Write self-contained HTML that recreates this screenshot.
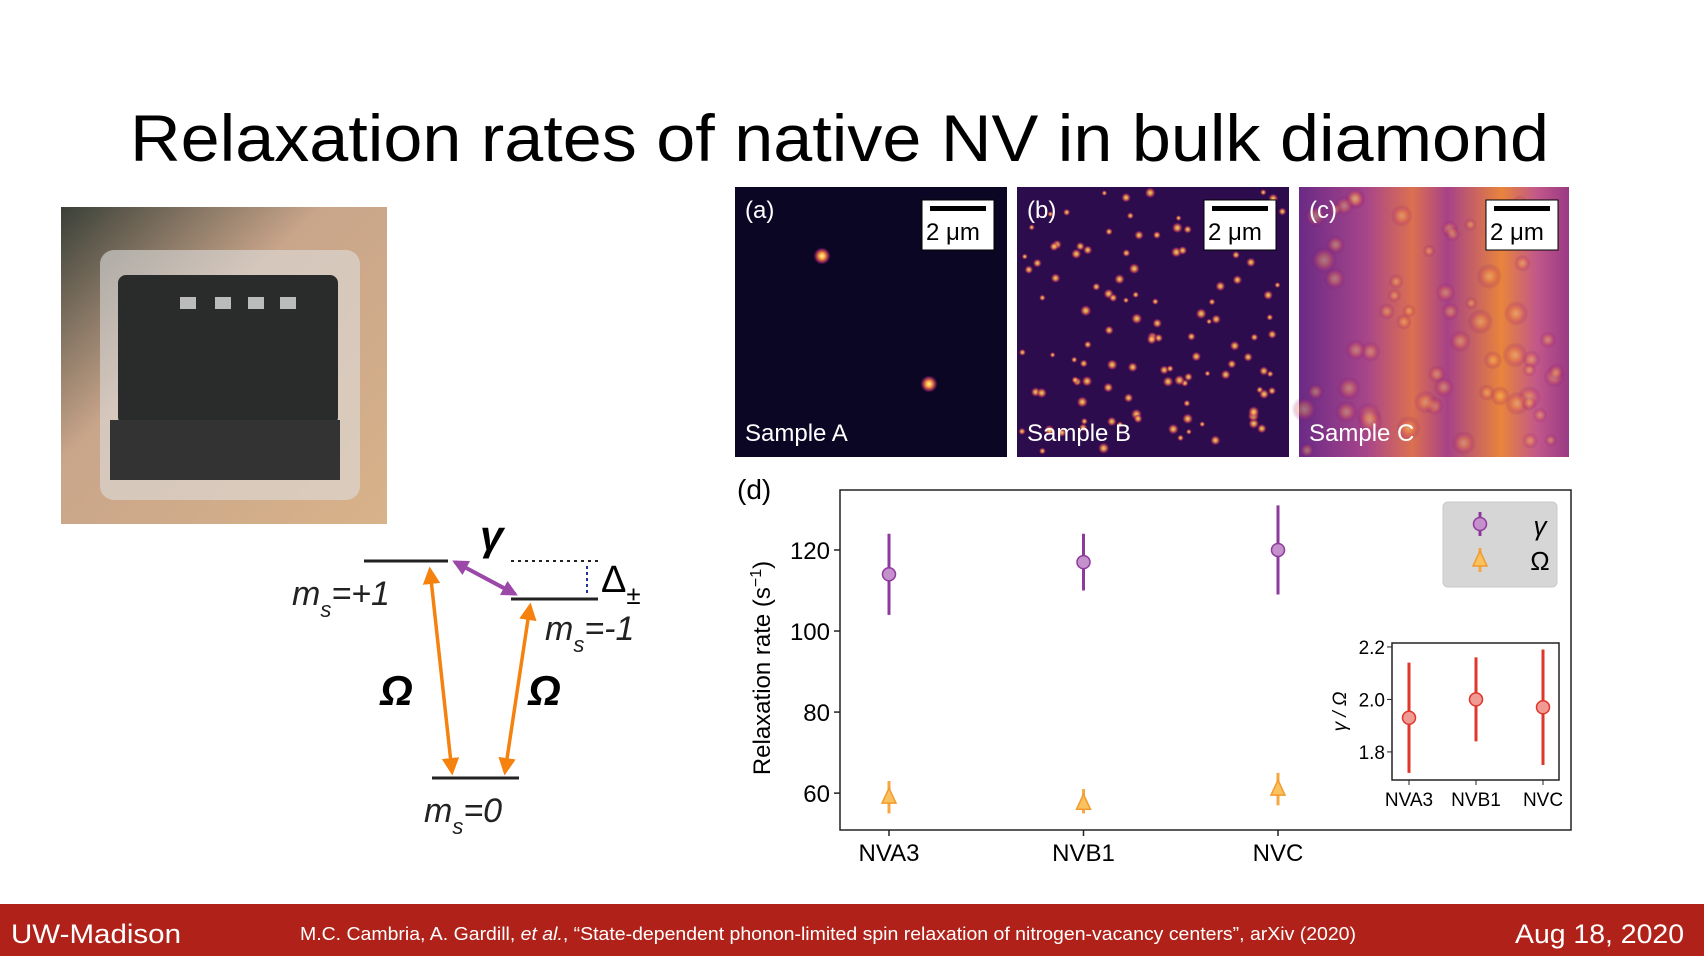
<!DOCTYPE html>
<html><head><meta charset="utf-8"><style>
html,body{margin:0;padding:0;background:#fff;}
#root{position:relative;width:1704px;height:956px;overflow:hidden;background:#fff;font-family:"Liberation Sans",sans-serif;}
svg text{font-family:"Liberation Sans",sans-serif;}
</style></head><body>
<div id="root">
<svg id="s" width="1704" height="956" viewBox="0 0 1704 956">
<defs>
<radialGradient id="spot" cx="50%" cy="50%" r="50%"><stop offset="0" stop-color="#fff3a0"/><stop offset="0.35" stop-color="#f7a13a"/><stop offset="0.7" stop-color="#c0306a" stop-opacity="0.7"/><stop offset="1" stop-color="#300850" stop-opacity="0"/></radialGradient>
<linearGradient id="cgrad" x1="0" x2="1" y1="0" y2="0"><stop offset="0" stop-color="#6a2a86"/><stop offset="0.25" stop-color="#a8458a"/><stop offset="0.42" stop-color="#dc7050"/><stop offset="0.55" stop-color="#a84288"/><stop offset="0.75" stop-color="#e8843c"/><stop offset="0.88" stop-color="#c2588a"/><stop offset="1" stop-color="#9a3a85"/></linearGradient>
<linearGradient id="photo" x1="0" x2="1" y1="0" y2="1"><stop offset="0" stop-color="#3a4038"/><stop offset="0.4" stop-color="#c9a58a"/><stop offset="1" stop-color="#d8b289"/></linearGradient>
<marker id="ao" viewBox="0 0 10 10" refX="8" refY="5" markerWidth="5" markerHeight="5" orient="auto-start-reverse"><path d="M0,0 L10,5 L0,10 z" fill="#f5820f"/></marker>
<marker id="ap" viewBox="0 0 10 10" refX="8" refY="5" markerWidth="4" markerHeight="4" orient="auto-start-reverse"><path d="M0,0 L10,5 L0,10 z" fill="#9b48a8"/></marker>
</defs>
<text x="130" y="161" font-size="66" textLength="1419" lengthAdjust="spacingAndGlyphs" fill="#000">Relaxation rates of native NV in bulk diamond</text>

<g>
<rect x="61" y="207" width="326" height="317" fill="url(#photo)"/>
<rect x="100" y="250" width="260" height="250" rx="14" fill="#ddd" opacity="0.6"/>
<rect x="118" y="275" width="220" height="150" rx="8" fill="#2a2c2c"/>
<rect x="110" y="420" width="230" height="60" fill="#333"/>
<g fill="#bbb"><rect x="180" y="297" width="16" height="12"/><rect x="215" y="297" width="16" height="12"/><rect x="248" y="297" width="16" height="12"/><rect x="280" y="297" width="16" height="12"/></g>
</g>

<g>
<line x1="364" y1="561" x2="448" y2="561" stroke="#222" stroke-width="3"/>
<line x1="511" y1="599" x2="598" y2="599" stroke="#222" stroke-width="3"/>
<line x1="432" y1="778" x2="519" y2="778" stroke="#222" stroke-width="3"/>
<line x1="511" y1="561" x2="598" y2="561" stroke="#222" stroke-width="2" stroke-dasharray="3,4"/>
<line x1="587" y1="566" x2="587" y2="594" stroke="#223399" stroke-width="2" stroke-dasharray="3,3"/>
<line x1="455" y1="562" x2="515" y2="594" stroke="#9b48a8" stroke-width="4" marker-start="url(#ap)" marker-end="url(#ap)"/>
<line x1="430" y1="570" x2="452" y2="772" stroke="#f5820f" stroke-width="3.5" marker-start="url(#ao)" marker-end="url(#ao)"/>
<line x1="530" y1="606" x2="505" y2="772" stroke="#f5820f" stroke-width="3.5" marker-start="url(#ao)" marker-end="url(#ao)"/>
<text x="292" y="605" font-size="34" font-style="italic" font-family="Liberation Serif,serif" fill="#222">m<tspan font-size="22" dy="12">s</tspan><tspan dy="-12">=+1</tspan></text>
<text x="545" y="640" font-size="34" font-style="italic" font-family="Liberation Serif,serif" fill="#222">m<tspan font-size="22" dy="12">s</tspan><tspan dy="-12">=-1</tspan></text>
<text x="424" y="822" font-size="34" font-style="italic" font-family="Liberation Serif,serif" fill="#222">m<tspan font-size="22" dy="12">s</tspan><tspan dy="-12">=0</tspan></text>
<text x="480" y="550" font-size="42" font-weight="bold" font-style="italic" font-family="Liberation Serif,serif">γ</text>
<text x="380" y="705" font-size="42" font-weight="bold" font-style="italic" font-family="Liberation Serif,serif">Ω</text>
<text x="528" y="705" font-size="42" font-weight="bold" font-style="italic" font-family="Liberation Serif,serif">Ω</text>
<text x="601" y="592" font-size="38">Δ<tspan font-size="26" dy="12">±</tspan></text>
</g>

<g id="maps">
<rect x="735" y="187" width="272" height="270" fill="#0b0623"/>
<rect x="1017" y="187" width="272" height="270" fill="#2c0c4c"/>
<rect x="1299" y="187" width="270" height="270" fill="url(#cgrad)"/>
<circle cx="822" cy="256" r="9" fill="url(#spot)"/>
<circle cx="929" cy="384" r="9" fill="url(#spot)"/>
</g>
<g font-size="24" fill="#fff">
<text x="745" y="218">(a)</text><text x="1027" y="218">(b)</text><text x="1309" y="218">(c)</text>
<text x="745" y="441">Sample A</text><text x="1027" y="441">Sample B</text><text x="1309" y="441">Sample C</text>
</g>
<g font-size="24">
<rect x="922" y="200" width="72" height="50" fill="#fff" stroke="#000"/><rect x="930" y="206" width="56" height="5"/><text x="926" y="240">2 μm</text>
<rect x="1204" y="200" width="72" height="50" fill="#fff" stroke="#000"/><rect x="1212" y="206" width="56" height="5"/><text x="1208" y="240">2 μm</text>
<rect x="1486" y="200" width="72" height="50" fill="#fff" stroke="#000"/><rect x="1494" y="206" width="56" height="5"/><text x="1490" y="240">2 μm</text>
</g>

<text x="737" y="499" font-size="28">(d)</text>
<g id="chart"></g>

<g>
<rect x="0" y="904" width="1704" height="52" fill="#b02219"/>
<text x="11" y="943" font-size="27" textLength="170" lengthAdjust="spacingAndGlyphs" fill="#fff">UW-Madison</text>
<text x="300" y="940" font-size="18" textLength="1056" lengthAdjust="spacingAndGlyphs" fill="#fff">M.C. Cambria, A. Gardill, <tspan font-style="italic">et al.</tspan>, “State-dependent phonon-limited spin relaxation of nitrogen-vacancy centers”, arXiv (2020)</text>
<text x="1515" y="943" font-size="27" textLength="169" lengthAdjust="spacingAndGlyphs" fill="#fff">Aug 18, 2020</text>
</g>
</svg>
</div>
<script>
const categories = ["NVA3","NVB1","NVC"];
const gammaVals = [114,117,120];
const gammaLo = [104,110,109];
const gammaHi = [124,124,131];
const omegaVals = [59,57.5,61];
const omegaLo = [55,55,57];
const omegaHi = [63,61,65];
const yTicks = [60,80,100,120];
const ratioVals = [1.93,2.0,1.97];
const ratioLo = [1.72,1.84,1.75];
const ratioHi = [2.14,2.16,2.19];
const ratioTicks = [1.8,2.0,2.2];

const NS="http://www.w3.org/2000/svg";
const chart=document.getElementById('chart');
function mk(tag,attrs,parent){const e=document.createElementNS(NS,tag);for(const k in attrs)e.setAttribute(k,attrs[k]);(parent||chart).appendChild(e);return e;}
const L=840,R=1571,T=490,B=830,yMin=50.9,yMax=134.8;
const yS=v=>B-(v-yMin)/(yMax-yMin)*(B-T);
const xPos=[889,1083,1278];
const xS=i=>xPos[0]+(xPos[2]-xPos[0])*i/(categories.length-1);
let fr=mk('rect',{x:L,y:T,width:R-L,height:B-T,fill:'none',stroke:'#222','stroke-width':1.5});


yTicks.forEach(v=>{
  mk('line',{x1:L-6,x2:L,y1:yS(v),y2:yS(v),stroke:'#222','stroke-width':1.5});
  const t=mk('text',{x:L-10,y:yS(v)+9,'font-size':24,'text-anchor':'end'});t.textContent=v;
  
  
});
categories.forEach((c,i)=>{
  mk('line',{x1:xS(i),x2:xS(i),y1:B,y2:B+6,stroke:'#222','stroke-width':1.5});
  const t=mk('text',{x:xS(i),y:B+31,'font-size':24,'text-anchor':'middle'});t.textContent=c;
  
  
});
const yt=mk('text',{x:0,y:0,'font-size':24,'text-anchor':'middle',transform:`translate(770,${(T+B)/2+8}) rotate(-90)`});
yt.innerHTML='Relaxation rate (s<tspan font-size="16" dy="-9">−1</tspan><tspan dy="9">)</tspan>';


categories.forEach((c,i)=>{
  const x=xS(i);
  let e=mk('line',{x1:x,x2:x,y1:yS(gammaLo[i]),y2:yS(gammaHi[i]),stroke:'#8e3a9c','stroke-width':3});
  
  
  let p=mk('circle',{cx:x,cy:yS(gammaVals[i]),r:6.5,fill:'#c491cc',stroke:'#8e3a9c','stroke-width':1.5});
  
  
  e=mk('line',{x1:x,x2:x,y1:yS(omegaLo[i]),y2:yS(omegaHi[i]),stroke:'#f5a742','stroke-width':3});
  
  
  const y=yS(omegaVals[i]);
  p=mk('polygon',{points:`${x},${y-9} ${x-7},${y+6} ${x+7},${y+6}`,fill:'#f9c25e',stroke:'#f29a2e','stroke-width':1.5});
  
  
});
const lg=mk('g',{});


mk('rect',{x:1443,y:502,width:114,height:85,rx:5,fill:'#d6d6d6',stroke:'#c8c8c8'},lg);
mk('line',{x1:1480,x2:1480,y1:512,y2:536,stroke:'#8e3a9c','stroke-width':3},lg);
mk('circle',{cx:1480,cy:524,r:6.5,fill:'#c491cc',stroke:'#8e3a9c','stroke-width':1.5},lg);
let lt=mk('text',{x:1540,y:535,'font-size':26,'font-style':'italic','font-family':'Liberation Serif,serif','text-anchor':'middle'},lg);lt.textContent='γ';
mk('line',{x1:1480,x2:1480,y1:548,y2:572,stroke:'#f5a742','stroke-width':3},lg);
mk('polygon',{points:'1480,551 1473,566 1487,566',fill:'#f9c25e',stroke:'#f29a2e','stroke-width':1.5},lg);
lt=mk('text',{x:1540,y:570,'font-size':26,'font-family':'Liberation Serif,serif','text-anchor':'middle'},lg);lt.textContent='Ω';
const iL=1392,iR=1559,iT=643,iB=780,rMin=1.693,rMax=2.215;
const rS=v=>iB-(v-rMin)/(rMax-rMin)*(iB-iT);
const ixPos=[1409,1543];
const ixS=i=>ixPos[0]+(ixPos[1]-ixPos[0])*i/(categories.length-1);
const ig=mk('g',{});


mk('rect',{x:iL,y:iT,width:iR-iL,height:iB-iT,fill:'#fff',stroke:'#222','stroke-width':1.5},ig);
ratioTicks.forEach(v=>{
  mk('line',{x1:iL-5,x2:iL,y1:rS(v),y2:rS(v),stroke:'#222'},ig);
  const t=mk('text',{x:iL-7,y:rS(v)+7,'font-size':19,'text-anchor':'end'},ig);t.textContent=v.toFixed(1);
  
  
});
categories.forEach((c,i)=>{
  const x=ixS(i);
  mk('line',{x1:x,x2:x,y1:iB,y2:iB+5,stroke:'#222'},ig);
  const t=mk('text',{x:x,y:iB+26,'font-size':19,'text-anchor':'middle'},ig);t.textContent=c;
  
  
  const e=mk('line',{x1:x,x2:x,y1:rS(ratioLo[i]),y2:rS(ratioHi[i]),stroke:'#e0362b','stroke-width':3},ig);
  
  
  const p=mk('circle',{cx:x,cy:rS(ratioVals[i]),r:6.5,fill:'#f09a94',stroke:'#e0362b','stroke-width':1.5},ig);
  
  
});
const it=mk('text',{x:0,y:0,'font-size':19,'font-style':'italic','font-family':'Liberation Serif,serif','text-anchor':'middle',transform:`translate(1346,${(iT+iB)/2}) rotate(-90)`},ig);
it.textContent='γ / Ω';


// decorative texture (image, not data)
const maps=document.getElementById('maps');
let seed=7;const rnd=()=>{seed=(seed*16807)%2147483647;return seed/2147483647;};
for(let k=0;k<120;k++){mk('circle',{cx:1022+rnd()*262,cy:192+rnd()*260,r:3+rnd()*3,fill:'url(#spot)',opacity:0.85},maps);}
for(let k=0;k<60;k++){mk('circle',{cx:1304+rnd()*260,cy:192+rnd()*260,r:6+rnd()*8,fill:'url(#spot)',opacity:0.35},maps);}
</script>
</body></html>
